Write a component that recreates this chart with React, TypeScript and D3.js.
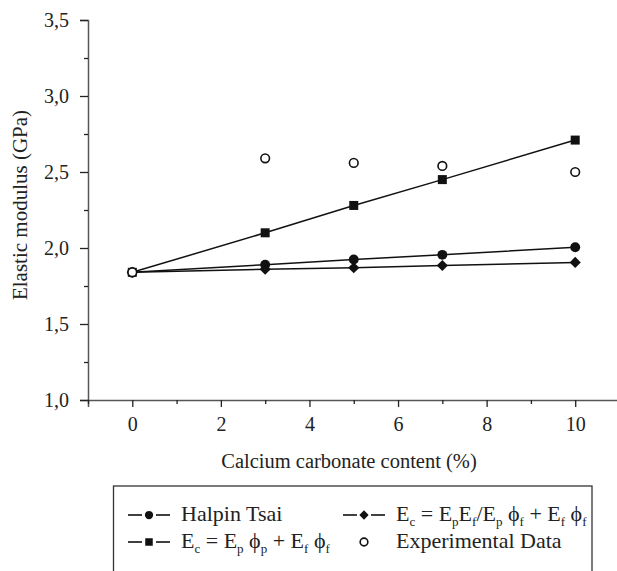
import { useRef, useEffect } from 'react';
import * as d3 from 'd3';

// calcium carbonate content (%)
const contents = [0, 3, 5, 7, 10];
// elastic modulus (GPa)
const halpinTsai = [1.84, 1.89, 1.925, 1.955, 2.005];
const ruleOfMixtures = [1.84, 2.1, 2.28, 2.45, 2.71];
const inverseRule = [1.84, 1.86, 1.87, 1.885, 1.905];
const experimental = [1.84, 2.59, 2.56, 2.54, 2.5];

const xTicks = [0, 2, 4, 6, 8, 10];
const xMinorTicks = [-1, 1, 3, 5, 7, 9, 11];
const yTicks = [1, 1.5, 2, 2.5, 3, 3.5];
const yMinorTicks = [1.25, 1.75, 2.25, 2.75, 3.25];

type Part = { t: string; sub?: boolean };
const legendItems: { marker: string; parts: Part[] }[] = [
    { marker: 'circle', parts: [{ t: 'Halpin Tsai' }] },
    {
        marker: 'diamond',
        parts: [
            { t: 'E' }, { t: 'c', sub: true }, { t: ' = E' }, { t: 'p', sub: true },
            { t: 'E' }, { t: 'f', sub: true }, { t: '/E' }, { t: 'p', sub: true },
            { t: ' \u03D5' }, { t: 'f', sub: true }, { t: ' + E' }, { t: 'f', sub: true },
            { t: ' \u03D5' }, { t: 'f', sub: true },
        ],
    },
    {
        marker: 'square',
        parts: [
            { t: 'E' }, { t: 'c', sub: true }, { t: ' = E' }, { t: 'p', sub: true },
            { t: ' \u03D5' }, { t: 'p', sub: true }, { t: ' + E' }, { t: 'f', sub: true },
            { t: ' \u03D5' }, { t: 'f', sub: true },
        ],
    },
    { marker: 'open', parts: [{ t: 'Experimental Data' }] },
];

const FONT = "'Liberation Serif', 'DejaVu Serif', serif";
const W = 617;
const H = 571;

export default function App() {
    const svgRef = useRef<SVGSVGElement>(null);

    useEffect(() => {
        if (!svgRef.current) return;
        const svg = d3.select(svgRef.current);
        svg.selectAll('*').remove();

        const x = d3.scaleLinear().domain([-1, 11]).range([88, 619.5]);
        const y = d3.scaleLinear().domain([1, 3.5]).range([400, 20]);
        const fmt = (v: number) => d3.format('.1f')(v).replace('.', ',');

        // axes
        const yAxis = svg.append('g').attr('transform', `translate(${x(-1)},0)`)
            .call(d3.axisLeft(y).tickValues(yTicks).tickFormat(d => fmt(d as number)).tickSizeOuter(0).tickSize(8).tickPadding(11));
        svg.append('g').attr('transform', `translate(${x(-1)},0)`)
            .call(d3.axisLeft(y).tickValues(yMinorTicks).tickFormat(() => '').tickSizeOuter(0).tickSize(4))
            .select('.domain').remove();
        const xAxis = svg.append('g').attr('transform', `translate(0,${y(1)})`)
            .call(d3.axisBottom(x).tickValues(xTicks).tickFormat(d => String(d)).tickSizeOuter(0).tickSize(7).tickPadding(10));
        svg.append('g').attr('transform', `translate(0,${y(1)})`)
            .call(d3.axisBottom(x).tickValues(xMinorTicks).tickFormat(() => '').tickSizeOuter(0).tickSize(4))
            .select('.domain').remove();

        [yAxis, xAxis].forEach(g => {
            g.attr('font-family', null).attr('font-size', null);
            g.select('.domain').attr('stroke', '#555').attr('stroke-width', 1.5);
            g.selectAll('text').style('font-family', FONT).style('font-size', '20px').attr('fill', '#222');
        });
        svg.selectAll('.tick line').attr('stroke', '#222').attr('stroke-width', 1.3);

        // axis titles
        svg.append('text')
            .attr('x', 349).attr('y', 468)
            .attr('text-anchor', 'middle')
            .style('font-family', FONT).style('font-size', '20.5px').attr('fill', '#222')
            .text('Calcium carbonate content (%)');
        svg.append('text')
            .attr('transform', 'translate(27,205) rotate(-90)')
            .attr('text-anchor', 'middle')
            .style('font-family', FONT).style('font-size', '21px').attr('fill', '#222')
            .text('Elastic modulus (GPa)');

        const line = d3.line<number>().x((_, i) => x(contents[i])).y(d => y(d));

        const drawMarker = (g: d3.Selection<any, any, any, any>, kind: string, cx: number, cy: number, s: number) => {
            if (kind === 'circle') {
                g.append('circle').attr('cx', cx).attr('cy', cy).attr('r', s * 0.55).attr('fill', '#111');
            } else if (kind === 'square') {
                g.append('rect').attr('x', cx - s / 2).attr('y', cy - s / 2).attr('width', s).attr('height', s).attr('fill', '#111');
            } else if (kind === 'diamond') {
                const r = s * 0.62;
                g.append('path').attr('d', `M${cx},${cy - r}L${cx + r},${cy}L${cx},${cy + r}L${cx - r},${cy}Z`).attr('fill', '#111');
            } else {
                g.append('circle').attr('cx', cx).attr('cy', cy).attr('r', s * 0.48).attr('fill', 'white').attr('stroke', '#111').attr('stroke-width', 1.6);
            }
        };

        const series = [
            { values: ruleOfMixtures, marker: 'square' },
            { values: halpinTsai, marker: 'circle' },
            { values: inverseRule, marker: 'diamond' },
        ];
        series.forEach(s => {
            svg.append('path').datum(s.values).attr('d', line).attr('fill', 'none').attr('stroke', '#111').attr('stroke-width', 1.5);
        });
        series.forEach(s => {
            const g = svg.append('g');
            s.values.forEach((v, i) => drawMarker(g, s.marker, x(contents[i]), y(v), 9));
        });
        const eg = svg.append('g');
        experimental.forEach((v, i) => drawMarker(eg, 'open', x(contents[i]), y(v), 9));

        // legend
        svg.append('rect')
            .attr('x', 113.5).attr('y', 486).attr('width', 478.5).attr('height', 95)
            .attr('fill', 'none').attr('stroke', '#333').attr('stroke-width', 1.3);

        const cols = [128, 343];
        const rows = [515, 542];
        legendItems.forEach((item, k) => {
            const lx = cols[k % 2];
            const ly = rows[Math.floor(k / 2)];
            const g = svg.append('g');
            if (item.marker !== 'open') {
                g.append('line').attr('x1', lx).attr('x2', lx + 14).attr('y1', ly).attr('y2', ly).attr('stroke', '#111').attr('stroke-width', 1.6);
                g.append('line').attr('x1', lx + 28).attr('x2', lx + 42).attr('y1', ly).attr('y2', ly).attr('stroke', '#111').attr('stroke-width', 1.6);
            }
            drawMarker(g, item.marker, lx + 21, ly, item.marker === 'open' ? 8 : 7.5);
            const text = g.append('text')
                .attr('x', lx + 53).attr('y', ly + 6)
                .style('font-family', FONT).style('font-size', '22px').attr('fill', '#222');
            item.parts.forEach(p => {
                text.append('tspan')
                    .attr('y', p.sub ? ly + 11 : ly + 6)
                    .style('font-size', p.sub ? '13px' : '22px')
                    .text(p.t);
            });
        });
    }, []);

    return (
        <svg
            ref={svgRef}
            width={W}
            height={H}
            style={{ position: 'absolute', left: 0, top: 0, background: 'white' }}
        />
    );
}
